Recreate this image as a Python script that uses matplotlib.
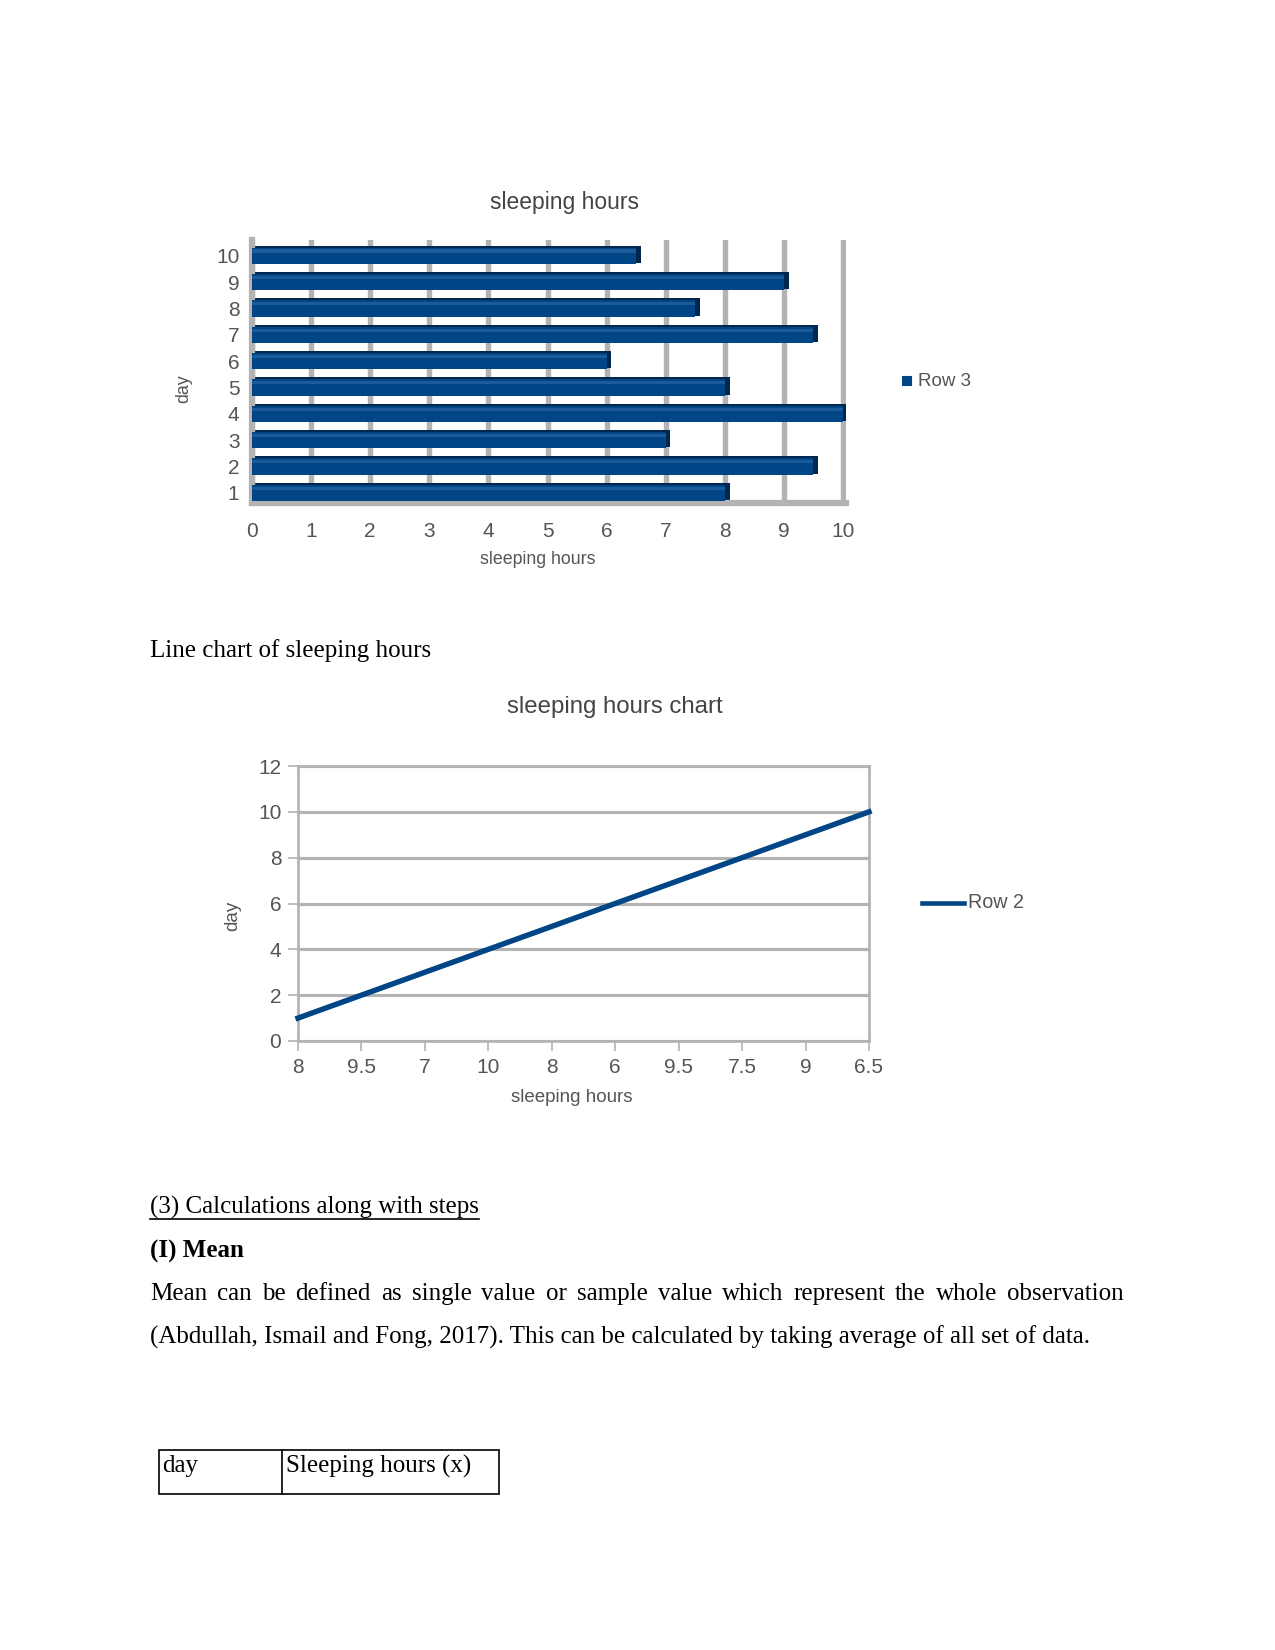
import numpy as np
import matplotlib
matplotlib.use("Agg")
import matplotlib.pyplot as plt
from matplotlib.patches import Rectangle
from matplotlib.lines import Line2D

# data read from the page
days = [1, 2, 3, 4, 5, 6, 7, 8, 9, 10]
hours = [8, 9.5, 7, 10, 8, 6, 9.5, 7.5, 9, 6.5]
hour_labels = ["8", "9.5", "7", "10", "8", "6", "9.5", "7.5", "9", "6.5"]

W, H = 1275, 1650
BLUE = "#004586"
GRID = "#b3b3b3"
TXT = "#555555"
SANS = "Liberation Sans"
SERIF = "Liberation Serif"

fig = plt.figure(figsize=(W / 150, H / 150), dpi=150)
fig.patch.set_facecolor("white")


def box(l, r, t, b):
    return [l / W, 1 - b / H, (r - l) / W, (b - t) / H]


def fx(x):
    return x / W


def fy(y):
    return 1 - y / H


### bar chart
ax1 = fig.add_axes(box(252, 846, 240, 503))
ax1.set_xlim(0, 10.05)
ax1.set_ylim(0.62, 10.6)
for v in range(0, 11):
    ax1.axvline(v, color=GRID, lw=2.6, zorder=0)
# depth (shadow) then front face of each bar
ax1.barh(np.array(days) + 0.06, np.array(hours) + 0.04, height=0.66, left=0.04,
         color="#00284f", zorder=2)
ax1.barh(days, hours, height=0.62, color=BLUE, zorder=3)
ax1.barh(np.array(days) + 0.18, hours, height=0.12, color="#1c5b99", zorder=4)
for s in ["top", "right"]:
    ax1.spines[s].set_visible(False)
for s in ["left", "bottom"]:
    ax1.spines[s].set_color(GRID)
    ax1.spines[s].set_linewidth(3)
ax1.set_xticks(range(0, 11))
ax1.set_yticks(days)
ax1.tick_params(length=0, labelsize=10, labelcolor=TXT, pad=6)
for lab in ax1.get_xticklabels() + ax1.get_yticklabels():
    lab.set_fontfamily(SANS)
ax1.tick_params(axis="x", pad=9)
fig.text(fx(564), fy(202), "sleeping hours", ha="center", va="center",
         fontsize=11, color="#444444", family=SANS)
fig.text(fx(538), fy(560), "sleeping hours", ha="center", va="center",
         fontsize=8.5, color=TXT, family=SANS)
fig.text(fx(184), fy(389), "day", ha="center", va="center", rotation=90,
         fontsize=8.5, color=TXT, family=SANS)
fig.add_artist(Rectangle((fx(903), fy(385)), 8 / W, 8 / H, color=BLUE,
                         transform=fig.transFigure))
fig.text(fx(918), fy(381), "Row 3", ha="left", va="center",
         fontsize=9, color=TXT, family=SANS)

### line chart
ax2 = fig.add_axes(box(298, 869, 766, 1041))
x_pos = np.arange(len(hours))
ax2.plot(x_pos, days, color=BLUE, lw=2.6, zorder=3, clip_on=False)
ax2.set_xlim(0, len(hours) - 1)
ax2.set_ylim(0, 12)
ax2.set_yticks(range(0, 13, 2))
ax2.set_xticks(x_pos)
ax2.set_xticklabels(hour_labels)
ax2.yaxis.grid(True, color=GRID, lw=1.5)
ax2.set_axisbelow(True)
for s in ax2.spines.values():
    s.set_color(GRID)
    s.set_linewidth(1.3)
ax2.tick_params(length=5, color=GRID, labelsize=10, labelcolor=TXT, pad=3)
for lab in ax2.get_xticklabels() + ax2.get_yticklabels():
    lab.set_fontfamily(SANS)
fig.text(fx(615), fy(707), "sleeping hours chart", ha="center", va="center",
         fontsize=11.5, color="#444444", family=SANS)
fig.text(fx(572), fy(1098), "sleeping hours", ha="center", va="center",
         fontsize=9, color=TXT, family=SANS)
fig.text(fx(233), fy(916), "day", ha="center", va="center", rotation=90,
         fontsize=9, color=TXT, family=SANS)
fig.add_artist(Line2D([fx(922), fx(964)], [fy(903), fy(903)], color=BLUE, lw=2.2))
fig.text(fx(968), fy(903), "Row 2", ha="left", va="center",
         fontsize=9.5, color=TXT, family=SANS)

### document text
fig.text(fx(150), fy(651), "Line chart of sleeping hours", ha="left", va="center",
         fontsize=12, family=SERIF)
fig.text(fx(150), fy(1207), "(3) Calculations along with steps", ha="left",
         va="center", fontsize=12, family=SERIF)
fig.add_artist(Line2D([fx(150), fx(479)], [fy(1219), fy(1219)], color="black", lw=0.8))
fig.text(fx(150), fy(1251), "(I) Mean", ha="left", va="center", fontsize=12,
         family=SERIF, weight="bold")

# justified line
words = "Mean can be defined as single value or sample value which represent the whole observation".split()
renderer = fig.canvas.get_renderer()
objs = [fig.text(0, fy(1294), w, ha="left", va="center", fontsize=12, family=SERIF) for w in words]
widths = [o.get_window_extent(renderer).width for o in objs]
gap = (1124 - 150 - sum(widths)) / (len(words) - 1)
x = 150
for o, w in zip(objs, widths):
    o.set_x(fx(x))
    x += w + gap

fig.text(fx(150), fy(1337),
         "(Abdullah, Ismail and Fong, 2017). This can be calculated by taking average of all set of data.",
         ha="left", va="center", fontsize=12, family=SERIF)

# table header
fig.add_artist(Rectangle((fx(159), fy(1494)), (499 - 159) / W, (1494 - 1450) / H,
                         fill=False, edgecolor="black", lw=0.8, transform=fig.transFigure))
fig.add_artist(Line2D([fx(282), fx(282)], [fy(1450), fy(1494)], color="black", lw=0.8))
fig.text(fx(162), fy(1466), "day", ha="left", va="center", fontsize=12, family=SERIF)
fig.text(fx(286), fy(1466), "Sleeping hours (x)", ha="left", va="center",
         fontsize=12, family=SERIF)

fig.savefig("out.png", dpi=150)
